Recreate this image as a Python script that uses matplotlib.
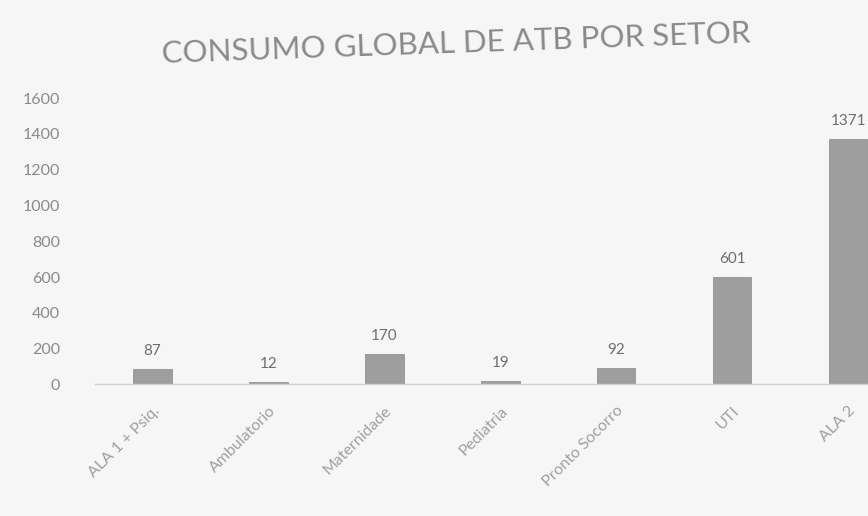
import matplotlib
matplotlib.use("Agg")
import matplotlib.pyplot as plt

# Consumo de antibióticos por setor
setores = ["ALA 1 + Psiq.", "Ambulatorio", "Maternidade", "Pediatria",
           "Pronto Socorro", "UTI", "ALA 2"]
consumo = [87, 12, 170, 19, 92, 601, 1371]
y_ticks = [0, 200, 400, 600, 800, 1000, 1200, 1400, 1600]

plt.rcParams["font.family"] = ["Lato", "DejaVu Sans"]

fig = plt.figure(figsize=(8.68, 5.16), dpi=100)
fig.patch.set_facecolor("#f6f6f6")
ax = fig.add_axes([0.109, 0.255, 0.935, 0.555])
ax.set_facecolor("#f6f6f6")

x = range(len(setores))
ax.bar(x, consumo, width=0.33, color="#9e9e9e", edgecolor="#949494",
       linewidth=0.6, zorder=2)

for xi, v in zip(x, consumo):
    ax.annotate(str(v), (xi, v), xytext=(0, 8), textcoords="offset points",
                ha="center", va="bottom", fontsize=11, color="#6e6e6e")

ax.set_xlim(-0.5, len(setores) - 0.5)
ax.set_ylim(0, 1600)
ax.set_yticks(y_ticks)
ax.set_yticklabels([str(t) for t in y_ticks], fontsize=11.5, color="#8a8a8a")
ax.set_xticks(list(x))
ax.set_xticklabels(setores, rotation=45, ha="right", rotation_mode="anchor",
                   fontsize=11.5, color="#a0a0a0")
ax.tick_params(axis="y", length=0, pad=25)
ax.tick_params(axis="x", length=0, pad=14)

for side in ["top", "right", "left"]:
    ax.spines[side].set_visible(False)
ax.spines["bottom"].set_color("#d0d0d0")
ax.spines["bottom"].set_linewidth(1.0)

fig.text(0.525, 0.915, "CONSUMO GLOBAL DE ATB POR SETOR", ha="center",
         va="center", fontsize=22.5, color="#8a8a8a", rotation=2)

fig.savefig("out.png", dpi=100, facecolor=fig.get_facecolor())
